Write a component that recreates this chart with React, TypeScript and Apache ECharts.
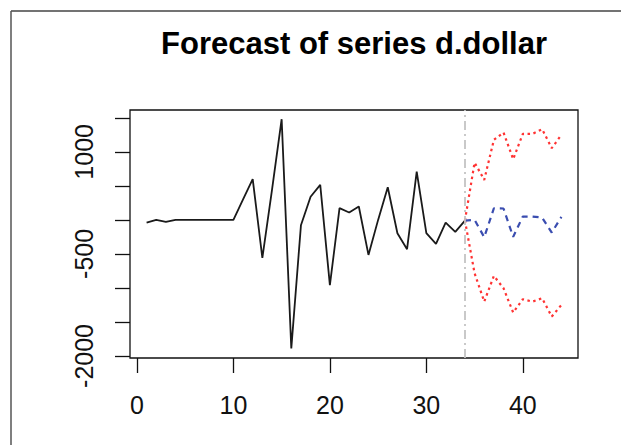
import React, { useEffect, useRef } from "react";
import * as echarts from "echarts";

const observed: number[] = [
  -40, 0, -30, 0, 0, 0, 0, 0, 0, 0, 300, 600, -560, 440, 1480, -1890, -80, 340,
  515, -960, 172, 108, 196, -515, 0, 480, -196, -431, 710, -196, -353, -39, -176, -10,
];
const forecastStart = 34;
const meanFc: number[] = [-10, 0, -255, 171, 167, -250, 49, 49, 34, -186, 44];
const upperFc: number[] = [-10, 842, 588, 1176, 1284, 892, 1264, 1264, 1333, 1054, 1250];
const lowerFc: number[] = [-10, -784, -1201, -823, -1005, -1362, -1166, -1201, -1152, -1421, -1250];
const xTicks: number[] = [0, 10, 20, 30, 40];
const yTicks: number[] = [-2000, -1500, -1000, -500, 0, 500, 1000, 1500];
const yLabels: number[] = [-2000, -500, 1000];
const titleText = "Forecast of series d.dollar";

const FONT = "'Liberation Sans', Arial, sans-serif";

export default function App() {
  const ref = useRef<HTMLDivElement>(null);
  useEffect(() => {
    if (!ref.current) return;
    const chart = echarts.init(ref.current, null, { renderer: "svg" });
    const obsData = observed.map((v, i) => [i + 1, v]);
    const fc = (arr: number[]) => arr.map((v, i) => [forecastStart + i, v]);
    chart.setOption({
      animation: false,
      backgroundColor: "#ffffff",
      grid: {
        left: 130,
        top: 110,
        right: 43,
        bottom: 87,
        show: true,
        borderColor: "#111",
        borderWidth: 1.3,
        backgroundColor: "transparent",
      },
      xAxis: {
        type: "value",
        min: -0.72,
        max: 45.72,
        splitLine: { show: false },
        axisLine: { show: false, onZero: false },
        axisTick: {
          show: true,
          length: 15,
          customValues: xTicks,
          lineStyle: { color: "#111", width: 1.3 },
        },
        axisLabel: {
          customValues: xTicks,
          margin: 34,
          fontSize: 25,
          color: "#111",
          fontFamily: FONT,
          formatter: (v: number) => String(v),
        },
      },
      yAxis: {
        type: "value",
        min: -2030,
        max: 1615,
        splitLine: { show: false },
        axisLine: { show: false, onZero: false },
        axisTick: {
          show: true,
          length: 15,
          customValues: yTicks,
          lineStyle: { color: "#111", width: 1.3 },
        },
        axisLabel: {
          customValues: yLabels,
          rotate: 90,
          margin: 34,
          fontSize: 25,
          color: "#111",
          fontFamily: FONT,
          formatter: (v: number) => String(v),
        },
      },
      graphic: [
        {
          type: "line",
          shape: { x1: 11, y1: 11, x2: 621, y2: 11 },
          style: { stroke: "#444", lineWidth: 1.5 },
        },
        {
          type: "line",
          shape: { x1: 11, y1: 11, x2: 11, y2: 445 },
          style: { stroke: "#555", lineWidth: 1.5 },
        },
        {
          type: "text",
          x: 354,
          y: 59,
          style: {
            text: titleText,
            fontSize: 31,
            fontWeight: "bold",
            fontFamily: FONT,
            fill: "#000",
            textAlign: "center",
            textVerticalAlign: "bottom",
          },
        },
      ],
      series: [
        {
          type: "line",
          data: obsData,
          symbol: "none",
          lineStyle: { color: "#1a1a1a", width: 1.8 },
          markLine: {
            silent: true,
            symbol: "none",
            label: { show: false },
            lineStyle: { color: "#c4c4c4", width: 1.8, type: [9, 4, 2, 4] },
            data: [{ xAxis: forecastStart }],
          },
        },
        {
          type: "line",
          data: fc(upperFc),
          symbol: "none",
          lineStyle: { color: "#ff3333", width: 2.2, type: [2.5, 3.5] },
        },
        {
          type: "line",
          data: fc(lowerFc),
          symbol: "none",
          lineStyle: { color: "#ff3333", width: 2.2, type: [2.5, 3.5] },
        },
        {
          type: "line",
          data: fc(meanFc),
          symbol: "none",
          lineStyle: { color: "#3a4db0", width: 2.2, type: [6, 5] },
        },
      ],
    });
    return () => chart.dispose();
  }, []);
  return (
    <div
      ref={ref}
      style={{ position: "fixed", left: 0, top: 0, width: 621, height: 445 }}
    />
  );
}
